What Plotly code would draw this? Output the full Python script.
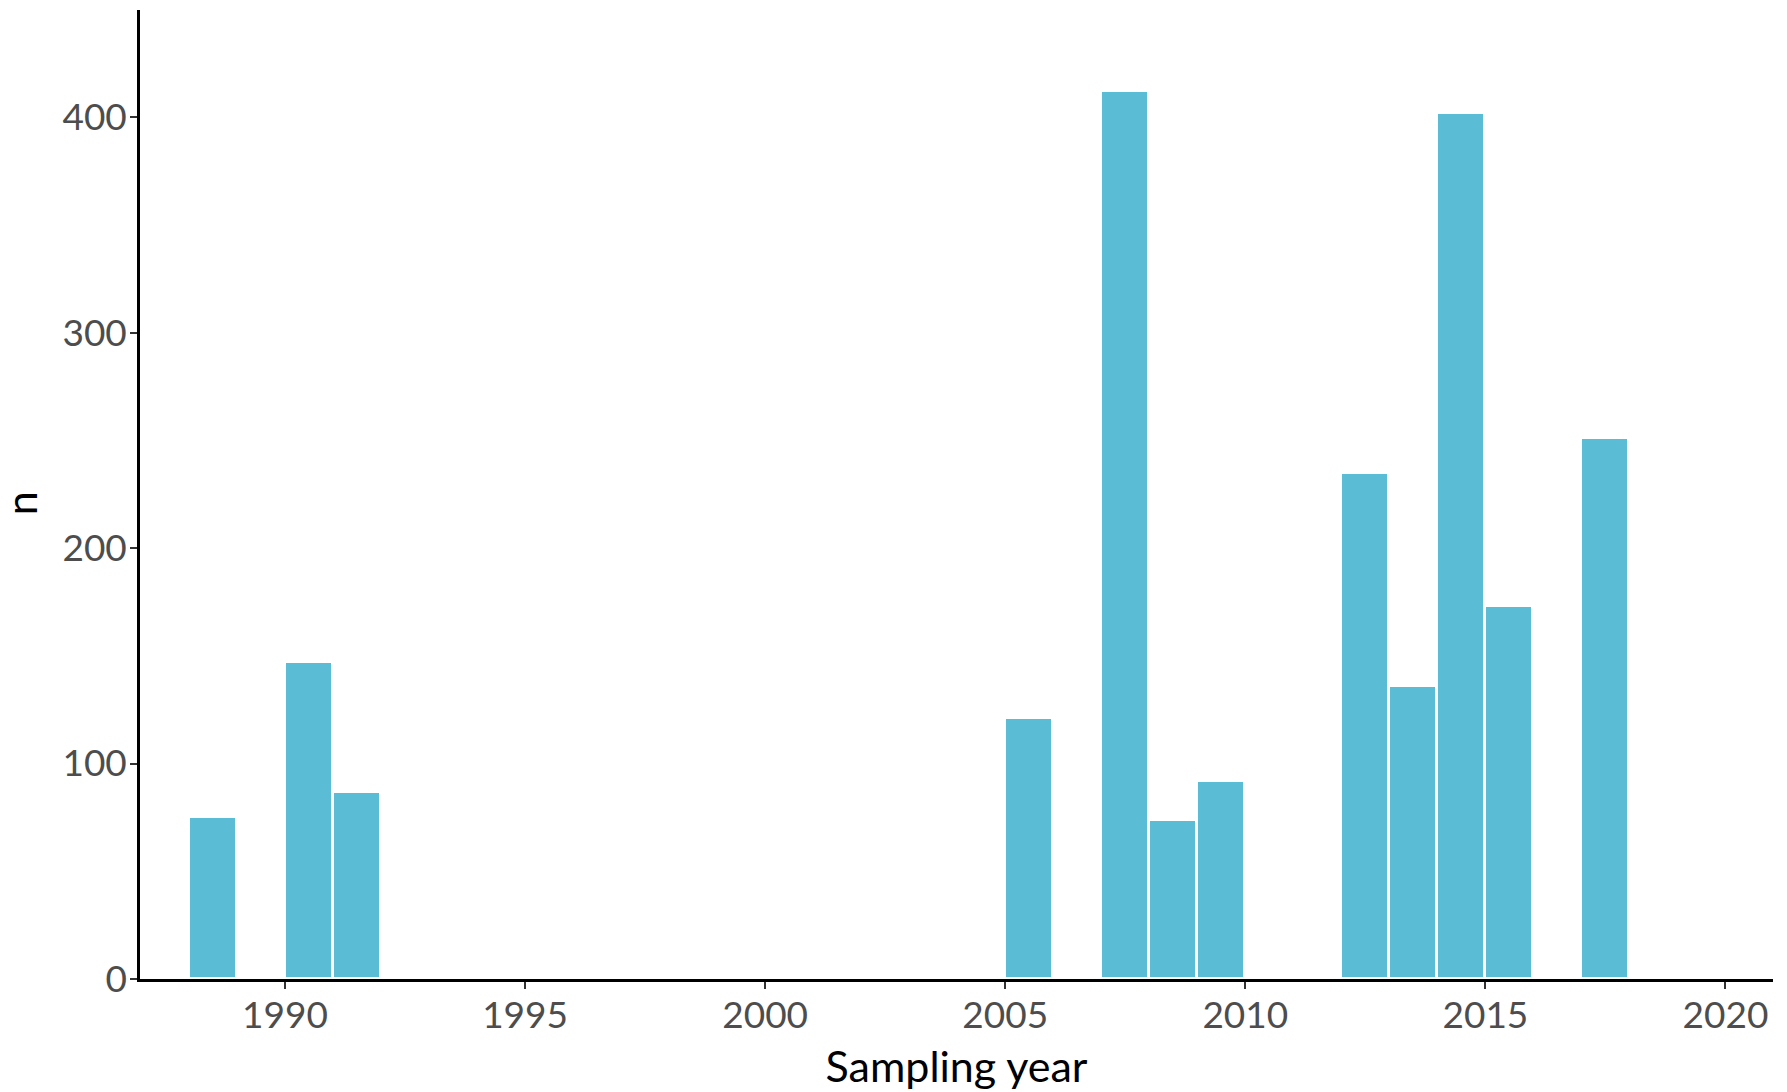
import plotly.graph_objects as go

years = [1988, 1990, 1991, 2005, 2007, 2008, 2009, 2012, 2013, 2014, 2015, 2017]
counts = [75, 147, 87, 121, 412, 74, 92, 235, 136, 402, 173, 251]
x_ticks = [1990, 1995, 2000, 2005, 2010, 2015, 2020]
y_ticks = [0, 100, 200, 300, 400]

FONT = "Lato, 'Open Sans', sans-serif"

fig = go.Figure(
    go.Bar(
        x=[y + 0.5 for y in years],
        y=counts,
        width=1,
        marker=dict(color="#5BBCD6", line=dict(color="white", width=3)),
        hoverinfo="x+y",
    )
)

fig.update_layout(
    width=1779,
    height=1084,
    margin=dict(l=132, r=14, t=2, b=113),
    plot_bgcolor="white",
    paper_bgcolor="white",
    showlegend=False,
    bargap=0,
    font=dict(family=FONT),
)

fig.update_xaxes(
    automargin=False,
    range=[1986.98, 2020.99],
    tickvals=x_ticks,
    ticktext=[str(v) for v in x_ticks],
    showgrid=False,
    zeroline=False,
    showline=True,
    linecolor="black",
    linewidth=2.5,
    ticks="outside",
    ticklen=7,
    tickwidth=2,
    tickcolor="#333333",
    ticklabelstandoff=-5,
    tickfont=dict(size=37, color="#4D4D4D", family=FONT),
    title=dict(text="Sampling year", font=dict(size=43, color="black", family=FONT), standoff=17),
)

fig.update_yaxes(
    automargin=False,
    range=[0, 449.7],
    tickvals=y_ticks,
    ticktext=[str(v) for v in y_ticks],
    showgrid=False,
    zeroline=False,
    showline=True,
    linecolor="black",
    linewidth=2.5,
    ticks="outside",
    ticklen=7,
    tickwidth=2,
    tickcolor="#333333",
    ticklabelstandoff=-4,
    tickfont=dict(size=37, color="#4D4D4D", family=FONT),
)

fig.add_annotation(
    text="n",
    xref="paper",
    yref="paper",
    x=-0.0735,
    y=0.491,
    xanchor="center",
    yanchor="middle",
    textangle=-90,
    showarrow=False,
    font=dict(size=43, color="black", family=FONT),
)

fig.write_html("out.html")
